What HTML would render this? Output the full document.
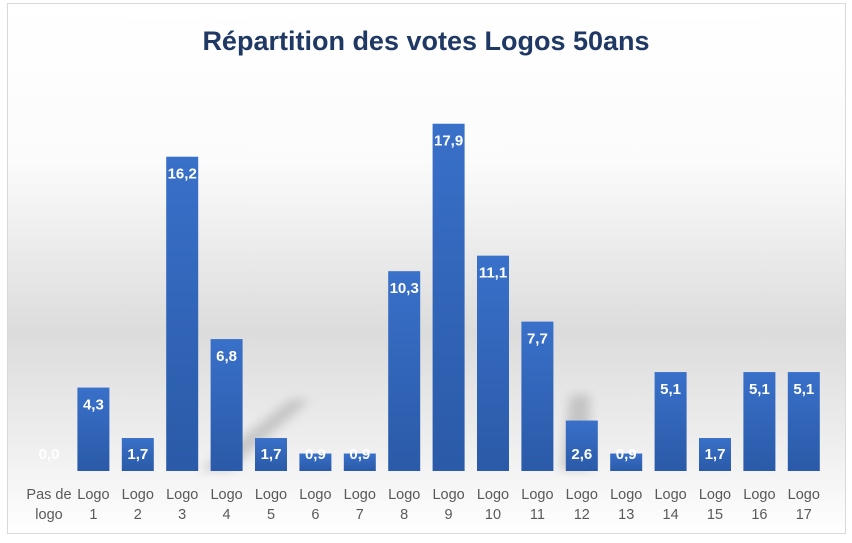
<!DOCTYPE html>
<html><head><meta charset="utf-8"><style>
body{margin:0;background:#fff;}
svg{display:block;}
</style></head><body>
<svg width="852" height="543" xmlns="http://www.w3.org/2000/svg">
<defs>
<linearGradient id="bg" x1="0" y1="0" x2="0" y2="1">
<stop offset="0" stop-color="#ffffff"/>
<stop offset="0.3" stop-color="#fbfbfb"/>
<stop offset="0.62" stop-color="#dcdcdc"/>
<stop offset="0.85" stop-color="#f0f0f0"/>
<stop offset="1" stop-color="#ffffff"/>
</linearGradient>
<linearGradient id="bar" x1="0" y1="0" x2="0" y2="1">
<stop offset="0" stop-color="#3970c9"/>
<stop offset="1" stop-color="#2a5aa8"/>
</linearGradient>
<filter id="bl"><feGaussianBlur stdDeviation="5"/></filter>
</defs>
<rect x="7.5" y="3.5" width="838" height="530" fill="url(#bg)" stroke="#d9d9d9"/>
<g fill="#999" opacity="0.45" filter="url(#bl)">
<polygon points="200,470 230,470 310,400 290,400"/>
<polygon points="560,470 590,470 590,395 570,395"/>
</g>
<text x="426" y="50" text-anchor="middle" font-family="Liberation Sans, sans-serif" font-weight="bold" font-size="27" fill="#1f3864">Répartition des votes Logos 50ans</text>
<g id="bars" font-family="Liberation Sans, sans-serif" font-weight="bold" font-size="15" fill="#fff" text-anchor="middle"></g>
<g id="lbl" font-family="Liberation Sans, sans-serif" font-size="14.5" fill="#595959" text-anchor="middle"></g>
<script>
(function(){
var v=[0,4.3,1.7,16.2,6.8,1.7,0.9,0.9,10.3,17.9,11.1,7.7,2.6,0.9,5.1,1.7,5.1,5.1];
var ns="http://www.w3.org/2000/svg",b=document.getElementById('bars'),l=document.getElementById('lbl');
function t(p,x,y,s){var e=document.createElementNS(ns,'text');e.setAttribute('x',x);e.setAttribute('y',y);e.textContent=s;p.appendChild(e);}
for(var i=0;i<18;i++){var c=49+44.4*i,h=v[i]*19.4,ty=471-h;
if(h>0){var r=document.createElementNS(ns,'rect');r.setAttribute('x',c-16);r.setAttribute('y',ty);r.setAttribute('width',32);r.setAttribute('height',h);r.setAttribute('fill','url(#bar)');b.appendChild(r);}
var ly=v[i]<3?459:ty+22;
t(b,c,ly,v[i].toFixed(1).replace('.',','));
if(i==0){t(l,c,499,'Pas de');t(l,c,519,'logo');}else{t(l,c,499,'Logo');t(l,c,519,String(i));}}
})();
</script>
</svg>
</body></html>
